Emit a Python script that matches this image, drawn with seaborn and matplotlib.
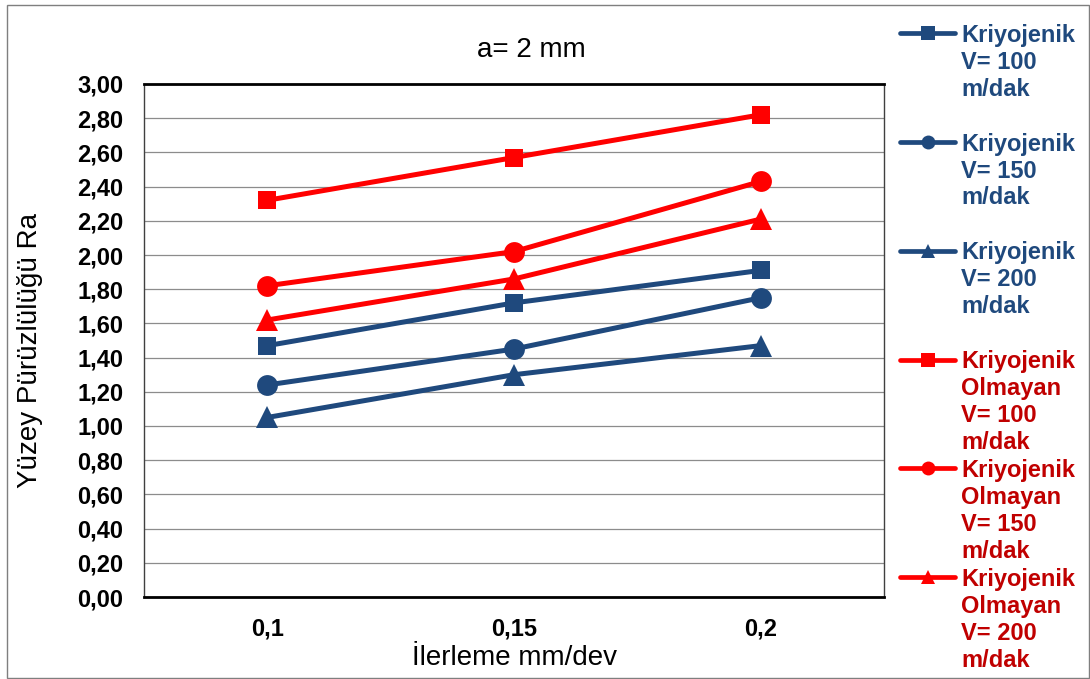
import matplotlib
matplotlib.use("Agg")
import matplotlib.pyplot as plt
from matplotlib.lines import Line2D
from matplotlib.patches import Rectangle
from matplotlib.ticker import FuncFormatter, MultipleLocator
import seaborn as sns
import pandas as pd

# ---- data ----
feeds = ["0,1", "0,15", "0,2"]
kriyo_v100 = [1.47, 1.72, 1.91]
kriyo_v150 = [1.24, 1.45, 1.75]
kriyo_v200 = [1.05, 1.30, 1.47]
kuru_v100 = [2.32, 2.57, 2.82]
kuru_v150 = [1.82, 2.02, 2.43]
kuru_v200 = [1.62, 1.86, 2.21]

series_labels = [
    "Kriyojenik\nV= 100\nm/dak",
    "Kriyojenik\nV= 150\nm/dak",
    "Kriyojenik\nV= 200\nm/dak",
    "Kriyojenik\nOlmayan\nV= 100\nm/dak",
    "Kriyojenik\nOlmayan\nV= 150\nm/dak",
    "Kriyojenik\nOlmayan\nV= 200\nm/dak",
]
series_values = [kriyo_v100, kriyo_v150, kriyo_v200, kuru_v100, kuru_v150, kuru_v200]

title = "a= 2 mm"
xlabel = "İlerleme mm/dev"
ylabel = "Yüzey Pürüzlülüğü Ra"

# ---- style ----
sns.set_theme(style="white")
plt.rcParams["font.family"] = ["Liberation Sans", "DejaVu Sans"]

BLUE = "#1F497D"
RED = "#FF0000"
RED_TXT = "#C00000"
line_colors = [BLUE, BLUE, BLUE, RED, RED, RED]
text_colors = [BLUE, BLUE, BLUE, RED_TXT, RED_TXT, RED_TXT]
markers = ["s", "o", "^", "s", "o", "^"]
msizes = [13.5, 15, 15.5, 13.5, 15, 15.5]

W, H = 1090, 679
fig = plt.figure(figsize=(W / 100, H / 100), dpi=100)
ax = fig.add_axes([144 / W, 1 - 597 / H, 740 / W, 513 / H])

for vals, lab, col, mk, ms in zip(series_values, series_labels, line_colors, markers, msizes):
    df = pd.DataFrame({"x": feeds, "y": vals})
    sns.lineplot(data=df, x="x", y="y", ax=ax, color=col, marker=mk,
                 markersize=ms, markeredgewidth=0, linewidth=3.6,
                 label=lab, legend=False, sort=False)

ax.set_xlim(-0.5, 2.5)
ax.set_ylim(0, 3.0)
ax.yaxis.set_major_locator(MultipleLocator(0.2))
ax.yaxis.set_major_formatter(FuncFormatter(lambda v, p: f"{v:.2f}".replace(".", ",")))
ax.grid(axis="y", color="#8C8C8C", linewidth=0.9)
ax.grid(axis="x", visible=False)
ax.set_axisbelow(True)

for side in ["top", "bottom"]:
    ax.spines[side].set_color("black")
    ax.spines[side].set_linewidth(2.0)
for side in ["left", "right"]:
    ax.spines[side].set_color("#404040")
    ax.spines[side].set_linewidth(1.0)

ax.tick_params(axis="both", length=0, labelsize=17, labelcolor="black")
ax.tick_params(axis="y", pad=15)
ax.tick_params(axis="x", pad=15)
for t in ax.get_xticklabels() + ax.get_yticklabels():
    t.set_fontweight("bold")

ax.set_xlabel(xlabel, fontsize=20, color="black")
ax.set_ylabel(ylabel, fontsize=20, color="black")
ax.xaxis.set_label_coords((515 - 144) / 740, (597 - 658) / 513)
ax.xaxis.label.set_va("center")
ax.yaxis.set_label_coords((30 - 144) / 740, (597 - 351) / 513)
ax.yaxis.label.set_va("center")

fig.text(531 / W, 1 - 50 / H, title, fontsize=20, ha="center", va="center", color="black")

# ---- manual legend on the right ----
PITCH = 27.0
for i, (lab, lcol, tcol, mk) in enumerate(zip(series_labels, line_colors, text_colors, markers)):
    base = 41.7 + 108.8 * i
    yc = base - 8.5
    fig.add_artist(Line2D([900 / W, 955 / W], [1 - yc / H, 1 - yc / H], color=lcol,
                          linewidth=3.4, transform=fig.transFigure))
    fig.add_artist(Line2D([927.5 / W], [1 - yc / H], color=lcol, marker=mk,
                          markersize=10 if mk != "s" else 9.5, markeredgewidth=0,
                          transform=fig.transFigure))
    for j, line in enumerate(lab.split("\n")):
        fig.text(961 / W, 1 - (base + PITCH * j) / H, line, fontsize=17,
                 fontweight="bold", color=tcol, ha="left", va="baseline")

# figure border
fig.add_artist(Rectangle((7 / W, 1 / H), 1082 / W, 673 / H, transform=fig.transFigure,
                         fill=False, edgecolor="#7F7F7F", linewidth=1.0))

fig.savefig("out.png", dpi=100)
